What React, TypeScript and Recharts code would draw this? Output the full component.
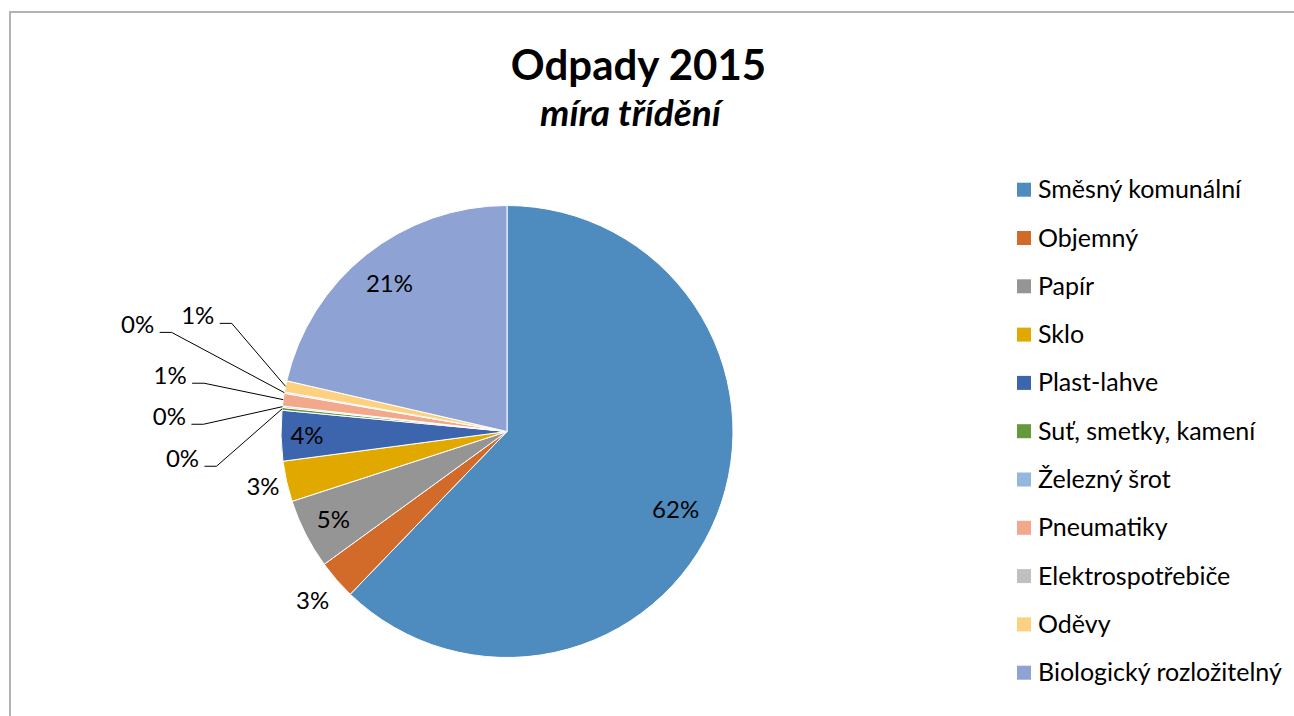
import React from "react";
import { PieChart, Pie, Cell, Legend } from "recharts";

const categories = [
  "Směsný komunální",
  "Objemný",
  "Papír",
  "Sklo",
  "Plast-lahve",
  "Suť, smetky, kamení",
  "Železný šrot",
  "Pneumatiky",
  "Elektrospotřebiče",
  "Oděvy",
  "Biologický rozložitelný",
];
const values = [62.2, 2.8, 5.0, 2.9, 3.6, 0.2, 0.1, 0.9, 0.1, 0.8, 21.4];
const colors = [
  "#4E8BBF",
  "#D26B2A",
  "#959595",
  "#E1A800",
  "#3C65AE",
  "#66993C",
  "#94B7DE",
  "#F2A98B",
  "#C0C0C0",
  "#FDD17F",
  "#8EA2D4",
];
const titleText = "Odpady 2015";
const subtitleText = "míra třídění";

// label placement (relative to the pie geometry)
const labelLayout: any[] = [
  { kind: "in", r: 0.823, dAng: 3 },
  { kind: "out", r: 1.14 },
  { kind: "in", r: 0.862 },
  { kind: "out", r: 1.107 },
  { kind: "in", r: 0.885 },
  { kind: "lead", clock: 265.2, r: 1.441 },
  { kind: "lead", clock: 272.5, r: 1.495 },
  { kind: "lead", clock: 279.4, r: 1.511 },
  { kind: "lead", clock: 286.1, r: 1.701 },
  { kind: "lead", clock: 290.5, r: 1.461 },
  { kind: "in", r: 0.835 },
];

const data = categories.map((name, i) => ({ name, value: values[i] }));

const FONT = "Lato, 'Open Sans', sans-serif";
const LABEL_SIZE = 24;
const LEGEND_SIZE = 25;
const RAD = Math.PI / 180;

const renderLabel = (props: any) => {
  const { cx, cy, midAngle, outerRadius, percent, index } = props;
  const lay = labelLayout[index];
  const text = `${Math.round(percent * 100)}%`;
  const midClock = 90 - midAngle; // clockwise from top
  let clock = midClock + (lay.dAng || 0);
  if (lay.kind === "lead") clock = lay.clock;
  const r = outerRadius * lay.r;
  const lx = cx + r * Math.sin(clock * RAD);
  const ly = cy - r * Math.cos(clock * RAD);
  const t = (
    <text
      x={lx}
      y={ly + 8.5}
      textAnchor="middle"
      fill="#000"
      fontFamily={FONT}
      fontSize={LABEL_SIZE}
    >
      {text}
    </text>
  );
  if (lay.kind !== "lead") return <g key={`l${index}`}>{t}</g>;
  const ex = cx + outerRadius * Math.sin(midClock * RAD);
  const ey = cy - outerRadius * Math.cos(midClock * RAD);
  const sx = lx + 22;
  const sy = ly + 7.5;
  return (
    <g key={`l${index}`}>
      {t}
      <polyline
        points={`${sx},${sy} ${sx + 12},${sy} ${ex},${ey}`}
        fill="none"
        stroke="#000"
        strokeWidth={1}
      />
    </g>
  );
};

const renderLegend = (props: any) => {
  const payload = (props && props.payload) || [];
  const items = categories.map((c, i) => {
    const p = payload.find((q: any) => q.value === c);
    return { value: c, color: (p && p.color) || colors[i] };
  });
  return (
    <svg width={294} height={540} style={{ display: "block" }}>
      {items.map((p: any, i: number) => {
        const yc = 19.7 + i * 48.3;
        return (
          <g key={i}>
            <rect x={17} y={yc - 7} width={14} height={14} fill={p.color} />
            <text
              x={38}
              y={yc + 8.5}
              fontFamily={FONT}
              fontSize={LEGEND_SIZE}
              fill="#000"
            >
              {p.value}
            </text>
          </g>
        );
      })}
    </svg>
  );
};

export default function App() {
  return (
    <div
      style={{
        position: "absolute",
        left: 0,
        top: 0,
        width: 1294,
        height: 716,
        background: "#fff",
        overflow: "hidden",
      }}
    >
      <PieChart width={1294} height={716} margin={{ top: 0, right: 0, bottom: 0, left: 0 }}>
        <Pie
          data={data}
          dataKey="value"
          nameKey="name"
          cx={507}
          cy={431.5}
          outerRadius={226}
          startAngle={90}
          endAngle={-270}
          stroke="#ffffff"
          strokeWidth={1}
          isAnimationActive={false}
          label={renderLabel}
          labelLine={false}
        >
          {data.map((d, i) => (
            <Cell key={d.name} fill={colors[i]} />
          ))}
        </Pie>
        <Legend
          content={renderLegend}
          itemSorter={null as any}
          wrapperStyle={{ position: "absolute", left: 1000, top: 170, width: 294, height: 540 }}
        />
      </PieChart>
      <svg
        width={1294}
        height={716}
        style={{ position: "absolute", left: 0, top: 0, pointerEvents: "none" }}
      >
        <path d="M10 716 V12 H1294" fill="none" stroke="#B3B3B3" strokeWidth={2} />
        <text
          x={638.5}
          y={80}
          textAnchor="middle"
          fontFamily={FONT}
          fontWeight="bold"
          fontSize={42}
          fill="#000"
        >
          {titleText}
        </text>
        <text
          x={630.5}
          y={126}
          textAnchor="middle"
          fontFamily={FONT}
          fontWeight="bold"
          fontStyle="italic"
          fontSize={37}
          fill="#000"
        >
          {subtitleText}
        </text>
      </svg>
    </div>
  );
}
